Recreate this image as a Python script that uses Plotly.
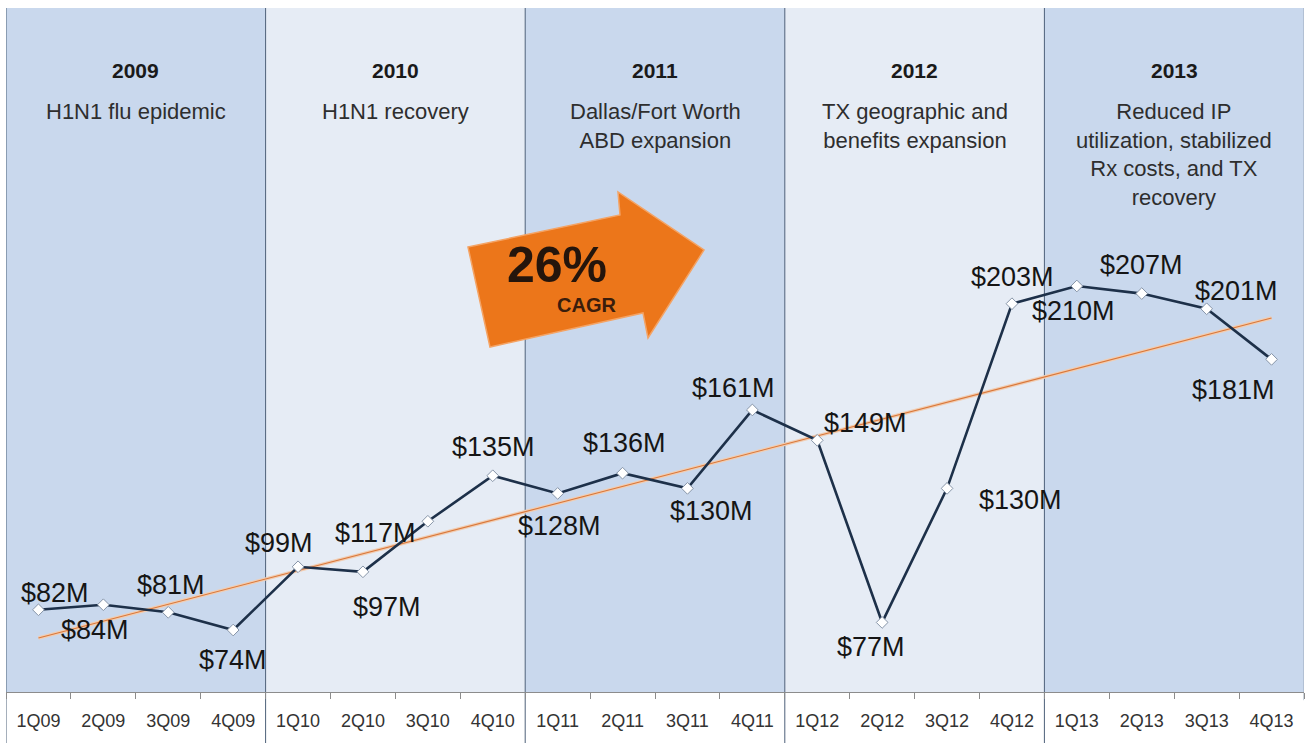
import numpy as np
import plotly.graph_objects as go

# Quarterly revenue ($M)
quarters = ["1Q09", "2Q09", "3Q09", "4Q09",
            "1Q10", "2Q10", "3Q10", "4Q10",
            "1Q11", "2Q11", "3Q11", "4Q11",
            "1Q12", "2Q12", "3Q12", "4Q12",
            "1Q13", "2Q13", "3Q13", "4Q13"]
revenue = [82, 84, 81, 74,
           99, 97, 117, 135,
           128, 136, 130, 161,
           149, 77, 130, 203,
           210, 207, 201, 181]

years = ["2009", "2010", "2011", "2012", "2013"]
year_notes = [
    "H1N1 flu epidemic",
    "H1N1 recovery",
    "Dallas/Fort Worth<br>ABD expansion",
    "TX geographic and<br>benefits expansion",
    "Reduced IP<br>utilization, stabilized<br>Rx costs, and TX<br>recovery",
]
cagr_value = "26%"
cagr_caption = "CAGR"

# pixel offsets of each value label from its marker (dx right, dy up)
label_offsets = [(17, 17), (-8, -25), (3, 27), (0, -30),
                 (-19, 24), (24, -35), (-52, -12), (1, 29),
                 (2, -33), (2, 30), (24, -23), (-19, 22),
                 (48, 17), (-11, -25), (73, -12), (1, 27),
                 (-3, -25), (0, 29), (30, 18), (-38, -31)]

W, H = 1310, 743
ML, MR, MT, MB = 6, 6, 8, 51
PW, PH = W - ML - MR, H - MT - MB
YR = [49.5, 319.9]

FONT = "Liberation Sans, Arial, sans-serif"
BLUE_BAND = "#c9d8ed"
LIGHT_BAND = "#e6ecf5"
SEP = "#4d6079"


def px_to_paper(px, py):
    return (px - ML) / PW, (H - MB - py) / PH


idx = np.arange(len(quarters))
slope, intercept = np.polyfit(idx, revenue, 1)
trend = slope * idx + intercept

fig = go.Figure()

# linear trend
fig.add_trace(go.Scatter(
    x=idx, y=trend, mode="lines",
    line=dict(color="#f1cdb2", width=3.5), hoverinfo="skip", showlegend=False))
fig.add_trace(go.Scatter(
    x=idx, y=trend, mode="lines",
    line=dict(color="#d9773a", width=1.1), hoverinfo="skip", showlegend=False))

# revenue line
fig.add_trace(go.Scatter(
    x=idx, y=revenue, mode="lines+markers",
    line=dict(color="#1d3049", width=2.6),
    marker=dict(symbol="diamond", size=9, color="white",
                line=dict(color="#8795a8", width=1)),
    showlegend=False))

shapes = []
annotations = []

# year bands and separators
for k, yr in enumerate(years):
    x0, x1 = 4 * k - 0.5, 4 * k + 3.5
    shapes.append(dict(type="rect", xref="x", yref="paper", x0=x0, x1=x1,
                       y0=0, y1=1, fillcolor=BLUE_BAND if k % 2 == 0 else LIGHT_BAND,
                       line=dict(width=0), layer="below"))
for k in range(len(years)):
    xb = 4 * k - 0.5
    shapes.append(dict(type="line", xref="x", yref="paper", x0=xb, x1=xb,
                       y0=-MB / PH, y1=1, line=dict(color=SEP, width=1),
                       layer="below"))
shapes.append(dict(type="line", xref="x", yref="paper", x0=19.5, x1=19.5,
                   y0=-0.012, y1=1, line=dict(color="#9aa8ba", width=1),
                   layer="below"))

# year headings
for k, (yr, note) in enumerate(zip(years, year_notes)):
    xc = 4 * k + 1.5
    annotations.append(dict(x=xc, xref="x", y=px_to_paper(0, 71)[1], yref="paper",
                            yanchor="middle", text="<b>" + yr + "</b>", showarrow=False,
                            font=dict(family=FONT, size=21, color="#1a1a1a")))
    annotations.append(dict(x=xc, xref="x", y=px_to_paper(0, 97)[1], yref="paper",
                            yanchor="top", text=note, showarrow=False,
                            font=dict(family=FONT, size=22, color="#2e2e2e")))

# value labels
for i, (v, (dx, dy)) in enumerate(zip(revenue, label_offsets)):
    annotations.append(dict(x=i, y=v, xref="x", yref="y", text=f"${v}M",
                            showarrow=False, xshift=dx, yshift=dy,
                            font=dict(family=FONT, size=27, color="#151515")))

# CAGR arrow
arrow_px = [(468, 247), (620, 215), (618, 192), (704, 250),
            (648, 338), (643, 313), (490, 347)]
pts = [px_to_paper(x, y) for x, y in arrow_px]
path = "M " + " L ".join(f"{a:.5f},{b:.5f}" for a, b in pts) + " Z"
shapes.append(dict(type="path", xref="paper", yref="paper", path=path,
                   fillcolor="#ec761a", line=dict(color="#f4a364", width=1.5),
                   layer="above"))
cx, cy = px_to_paper(557, 265)
annotations.append(dict(x=cx, y=cy, xref="paper", yref="paper", yanchor="middle",
                        text="<b>" + cagr_value + "</b>", showarrow=False,
                        font=dict(family=FONT, size=50, color="#24150c")))
cx, cy = px_to_paper(586, 305)
annotations.append(dict(x=cx, y=cy, xref="paper", yref="paper", yanchor="middle",
                        text="<b>" + cagr_caption + "</b>", showarrow=False,
                        font=dict(family=FONT, size=20, color="#3a1d0c")))

fig.update_layout(
    width=W, height=H,
    margin=dict(l=ML, r=MR, t=MT, b=MB),
    paper_bgcolor="white", plot_bgcolor="white",
    shapes=shapes, annotations=annotations,
    xaxis=dict(range=[-0.5, 19.5], tickmode="array", tickvals=list(idx),
               ticktext=quarters, showline=True, linecolor="#8c8c8c", linewidth=1,
               ticks="", ticklabelstandoff=12,
               showgrid=False, zeroline=False,
               tickfont=dict(family=FONT, size=18, color="#333333")),
    # tick marks at quarter boundaries
    xaxis2=dict(overlaying="x", range=[-0.5, 19.5], side="bottom",
                tickmode="array", tickvals=[i - 0.5 for i in range(21)],
                showticklabels=False, ticks="outside", ticklen=6,
                tickcolor="#8c8c8c", showgrid=False, zeroline=False,
                showline=False),
    yaxis=dict(range=YR, visible=False, showgrid=False, zeroline=False),
)
fig.add_trace(go.Scatter(x=[0], y=[None], xaxis="x2", showlegend=False, hoverinfo="skip"))

fig.write_html("out.html")
